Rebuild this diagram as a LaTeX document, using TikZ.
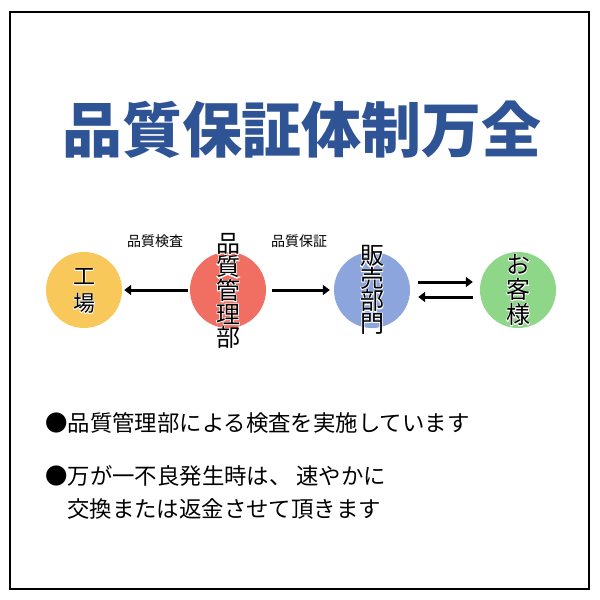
\documentclass[tikz,border=0pt]{standalone}
\usepackage{fontspec}
\setmainfont{Noto Sans CJK JP}
\newfontfamily\halofont[FakeBold=6]{Noto Sans CJK JP}
\usetikzlibrary{arrows.meta}
\definecolor{titleblue}{RGB}{46,84,150}
\definecolor{cyellow}{RGB}{249,200,90}
\definecolor{cred}{RGB}{240,110,98}
\definecolor{cblue}{RGB}{140,165,220}
\definecolor{cgreen}{RGB}{142,214,136}
\tikzset{
  circ/.style={circle,minimum size=76pt,inner sep=0pt},
  vlab/.style={align=center,inner sep=0pt},
  arr/.style={line width=3pt,-{Triangle[length=7pt,width=10pt]}},
  small/.style={font=\fontsize{14}{14}\selectfont,inner sep=0pt},
  body/.style={font=\fontsize{22.4}{22.4}\selectfont,anchor=west,inner sep=0pt},
}
\newcommand{\halotext}[5]{% name, position, size, lead, text
  \node[vlab,text=white,font=\halofont\fontsize{#3}{#4}\selectfont] at (#2) {#5};
  \node[vlab,font=\fontsize{#3}{#4}\selectfont] (#1) at (#2) {#5};
}
\begin{document}
\begin{tikzpicture}[x=1pt,y=-1pt]
\useasboundingbox (0,0) rectangle (600,600);
\fill[white] (0,0) rectangle (600,600);
\draw[line width=2pt] (10,12) rectangle (589,589);
\node[font=\fontsize{60}{60}\selectfont\bfseries,text=titleblue,inner sep=0pt] (title) at (302,130) {品質保証体制万全};

\node[circ,fill=cyellow] (fac) at (84,290) {};
\node[circ,fill=cred] (qc) at (228,290) {};
\node[circ,fill=cblue] (sales) at (372,290) {};
\node[circ,fill=cgreen] (cust) at (518,290) {};

\coordinate (facc) at (84,291);
\coordinate (qcc) at (228,291);
\coordinate (salesc) at (372,290);
\coordinate (custc) at (518,290);
\halotext{factxt}{facc}{22}{27}{工\\場}
\halotext{qctxt}{qcc}{24}{23.6}{品\\質\\管\\理\\部}
\halotext{salestxt}{salesc}{24}{22.5}{販\\売\\部\\門}
\halotext{custtxt}{custc}{24}{25}{お\\客\\様}

\draw[arr] ([xshift=-2pt]qc.west) -- ([xshift=2pt]fac.east);
\draw[arr] ([xshift=6pt]qc.east) -- ([xshift=-4pt]sales.west);
\draw[arr] ([xshift=8pt,yshift=8pt]sales.east) -- ([xshift=-7pt,yshift=8pt]cust.west);
\draw[arr] ([xshift=-7pt,yshift=-7pt]cust.west) -- ([xshift=8pt,yshift=-7pt]sales.east);

\node[small] (l1) at (155,241) {品質検査};
\node[small] (l2) at (299,241) {品質保証};

\node[body] (b1) at (45,423) {●品質管理部による検査を実施しています};
\node[body] (b2) at (45,476) {●万が一不良発生時は、 速やかに};
\node[body] (b3) at (67,509) {交換または返金させて頂きます};
\end{tikzpicture}
\end{document}
